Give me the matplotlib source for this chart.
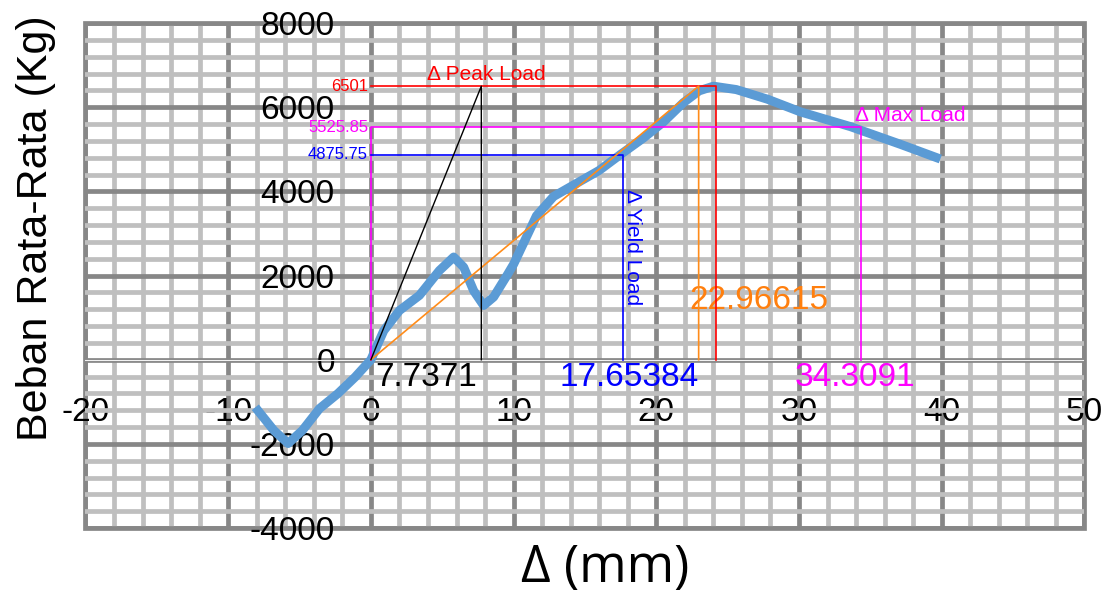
import numpy as np
import matplotlib
matplotlib.use('Agg')
import matplotlib.pyplot as plt
from matplotlib.ticker import MultipleLocator
from matplotlib.patches import Rectangle

# data
delta = [-8.1, -6.8, -5.8, -4.8, -3.6, -2.3, -1.1, 0.0, 0.9, 2.0, 3.4, 4.8,
         5.8, 6.5, 7.2, 7.9, 8.6, 9.6, 10.0, 11.6, 12.8, 14.4, 16.0, 17.5,
         19.1, 20.5, 21.9, 23.0, 24.0, 25.6, 27.8, 30.1, 33.6, 37.1, 39.9]
beban = [-1130, -1680, -1990, -1680, -1160, -800, -410, 0, 690, 1170, 1530, 2120,
         2440, 2200, 1640, 1290, 1490, 2040, 2270, 3420, 3880, 4190, 4500, 4880,
         5270, 5650, 6110, 6390, 6500, 6420, 6190, 5890, 5540, 5120, 4770]

peak_load = 6501
max_load = 5525.85
yield_load = 4875.75
d_peak = 24.2
d_max = 34.3091
d_yield = 17.65384
d_elastic = 22.96615
d_init = 7.7371

xticks = [-20, -10, 0, 10, 20, 30, 40, 50]
yticks = [-4000, -2000, 0, 2000, 4000, 6000, 8000]

plt.rcParams['font.family'] = ['Liberation Sans', 'DejaVu Sans']
plt.rcParams['axes.unicode_minus'] = False

fig = plt.figure(figsize=(11.1, 5.92), dpi=100)
ax = fig.add_axes([0.077, 0.108, 0.9, 0.853])
ax.set_xlim(-20, 50)
ax.set_ylim(-4000, 8000)
ax.set_xticks(xticks)
ax.set_yticks(yticks)
ax.xaxis.set_minor_locator(MultipleLocator(2))
ax.yaxis.set_minor_locator(MultipleLocator(400))
ax.set_axisbelow(True)
ax.grid(which='minor', color='#bfbfbf', lw=3.4)
ax.grid(which='major', color='#878787', lw=3.4)
ax.add_patch(Rectangle((0, 0), 1, 1, transform=ax.transAxes, fill=False,
                       ec='#878787', lw=3.4, clip_on=False, zorder=0.5))

for s in ['top', 'right']:
    ax.spines[s].set_visible(False)
ax.spines['bottom'].set_position(('data', 0))
ax.spines['left'].set_position(('data', 0))
ax.spines['bottom'].set_color('none')
ax.spines['left'].set_color('none')
ax.tick_params(which='both', length=0)
ax.tick_params(axis='x', pad=27, labelsize=24)
ax.tick_params(axis='y', pad=26, labelsize=24)
ax.axhline(0, color='#f2f2f2', lw=0.8, zorder=1.5)

# curve
ax.plot(delta, beban, color='#5b9bd5', lw=6.5, solid_joinstyle='round',
        solid_capstyle='butt', zorder=3)

# peak load (red)
ax.plot([0, d_peak, d_peak], [peak_load, peak_load, 0], color='#ff0000', lw=1.2, zorder=4)
ax.text(-0.2, peak_load, '6501', color='#ff0000', fontsize=12, ha='right', va='center')
ax.text(3.9, peak_load + 40, 'Δ Peak Load', color='#ff0000', fontsize=15, ha='left', va='bottom')

# max load (magenta)
ax.plot([0, 0, d_max, d_max], [0, max_load, max_load, 0], color='#ff00ff', lw=1.2, zorder=4)
ax.text(-0.2, max_load, '5525.85', color='#ff00ff', fontsize=12, ha='right', va='center')
ax.text(33.9, max_load + 60, 'Δ Max Load', color='#ff00ff', fontsize=15, ha='left', va='bottom')
ax.text(33.9, -430, '34.3091', color='#ff00ff', fontsize=24, ha='center', va='center')

# yield load (blue)
ax.plot([0, d_yield, d_yield], [yield_load, yield_load, 0], color='#0000ff', lw=1.2, zorder=4)
ax.text(-0.2, yield_load, '4875.75', color='#0000ff', fontsize=12, ha='right', va='center')
ax.text(d_yield + 0.7, 4050, 'Δ Yield Load', color='#0000ff', fontsize=15,
        rotation=-90, ha='center', va='top')
ax.text(18.1, -430, '17.65384', color='#0000ff', fontsize=24, ha='center', va='center')

# secant lines
ax.plot([0, d_elastic, d_elastic], [0, peak_load, 0], color='#ff8c1a', lw=1.2, zorder=4)
ax.text(27.2, 1400, '22.96615', color='#ff7f0e', fontsize=24, ha='center', va='center')
ax.plot([0, d_init, d_init], [0, peak_load, 0], color='#000000', lw=1.0, zorder=4)
ax.text(0.3, -430, '7.7371', color='#000000', fontsize=24, ha='left', va='center')

fig.text(0.032, 0.615, 'Beban Rata-Rata (Kg)', rotation=90, fontsize=31,
         ha='center', va='center')
fig.text(0.545, 0.04, 'Δ (mm)', fontsize=37, ha='center', va='center',
         family=['Open Sans', 'DejaVu Sans'])

fig.savefig('out.png', dpi=100)
